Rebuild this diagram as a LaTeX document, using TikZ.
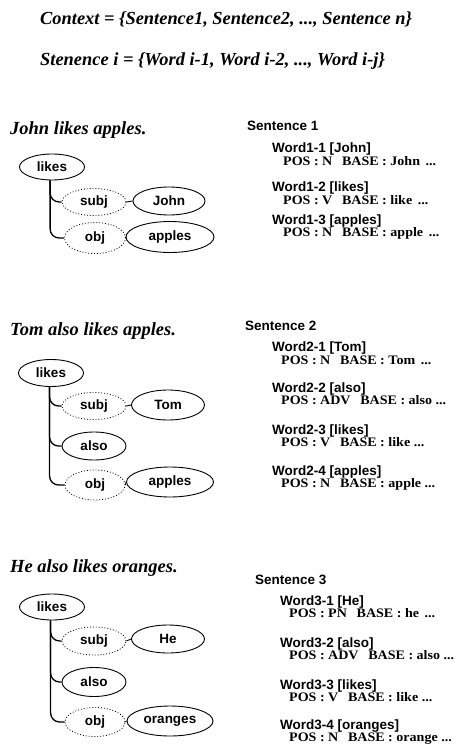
\documentclass[tikz,border=0pt]{standalone}
\usepackage{fontspec}
\setmainfont{Liberation Serif}
\setsansfont{Liberation Sans}
\usetikzlibrary{shapes.geometric}
\tikzset{
  title/.style={anchor=mid west, inner sep=0pt, font=\fontsize{18.4}{20}\selectfont\bfseries\itshape},
  sent/.style={anchor=mid west, inner sep=0pt, font=\fontsize{18.5}{20}\selectfont\bfseries\itshape},
  shead/.style={anchor=mid west, inner sep=0pt, font=\fontsize{13.5}{15}\selectfont\sffamily\bfseries},
  whead/.style={anchor=mid west, inner sep=0pt, font=\fontsize{13.5}{15}\selectfont\sffamily\bfseries},
  attr/.style={anchor=mid west, inner sep=0pt, font=\fontsize{13}{14}\selectfont\bfseries},
  tok/.style={ellipse, draw, line width=0.9pt, inner sep=0pt, font=\fontsize{13.5}{15}\selectfont\sffamily\bfseries},
  rel/.style={tok, dotted, line width=0.8pt},
  conn/.style={line width=1.3pt, rounded corners=9pt},
  link/.style={line width=0.9pt}
}
% attribute line: slightly widened text with a fixed gap between fields
\newcommand{\attrline}[2]{\scalebox{1.08}[1]{#1\hspace{9pt}#2}}
\begin{document}
\begin{tikzpicture}[x=1pt,y=-1pt]
\useasboundingbox (0,0) rectangle (469,751);

% definitions
\node[title] (ctx) at (40,22) {Context = \{Sentence1, Sentence2, ..., Sentence n\}};
\node[title] (sti) at (40,63) {Stenence i = \{Word i-1, Word i-2, ..., Word i-j\}};

% ---------- sentence 1 ----------
\node[sent] (t1) at (10,132) {John likes apples.};
\node[tok, minimum width=65pt, minimum height=26pt] (l1) at (52,167) {likes};
\node[rel, minimum width=64pt, minimum height=27pt] (s1) at (94,202) {subj};
\node[tok, minimum width=72pt, minimum height=28pt] (n1) at (169,201) {John};
\node[rel, minimum width=61pt, minimum height=31pt] (o1) at (95,238) {obj};
\node[tok, minimum width=88pt, minimum height=31pt] (a1) at (170,237) {apples};
\draw[conn] (l1.262) |- (s1.west);
\draw[conn] (l1.262) |- (o1.west);
\draw[link] (s1.east) -- (n1.west);
\draw[link] (o1.east) -- (a1.west);

\node[shead] (h1) at (247,128) {Sentence 1};
\node[whead] (w11) at (272,150) {Word1-1 [John]};
\node[attr] (p11) at (283,163) {\attrline{POS : N}{BASE : John\hspace{0.4em}...}};
\node[whead] (w12) at (272,189) {Word1-2 [likes]};
\node[attr] (p12) at (283,202) {\attrline{POS : V}{BASE : like\hspace{0.4em}...}};
\node[whead] (w13) at (272,222) {Word1-3 [apples]};
\node[attr] (p13) at (283,234) {\attrline{POS : N}{BASE : apple\hspace{0.4em}...}};

% ---------- sentence 2 ----------
\node[sent] (t2) at (10,333) {Tom also likes apples.};
\node[tok, minimum width=65pt, minimum height=27pt] (l2) at (51,373) {likes};
\node[rel, minimum width=64pt, minimum height=27pt] (s2) at (94,406) {subj};
\node[tok, minimum width=73pt, minimum height=30pt] (n2) at (168,405) {Tom};
\node[tok, minimum width=64pt, minimum height=28pt] (v2) at (94,446) {also};
\node[rel, minimum width=60pt, minimum height=30pt] (o2) at (95,485) {obj};
\node[tok, minimum width=87pt, minimum height=30pt] (a2) at (170,482) {apples};
\draw[conn] (l2.264) |- (s2.west);
\draw[conn] (l2.264) |- (v2.west);
\draw[conn] (l2.264) |- (o2.west);
\draw[link] (s2.east) -- (n2.west);
\draw[link] (o2.east) -- (a2.west);

\node[shead] (h2) at (245,328) {Sentence 2};
\node[whead] (w21) at (272,349) {Word2-1 [Tom]};
\node[attr] (p21) at (281,362) {\attrline{POS : N}{BASE : Tom\hspace{0.4em}...}};
\node[whead] (w22) at (272,390) {Word2-2 [also]};
\node[attr] (p22) at (281,402) {\attrline{POS : ADV}{BASE : also ...}};
\node[whead] (w23) at (272,432) {Word2-3 [likes]};
\node[attr] (p23) at (281,444) {\attrline{POS : V}{BASE : like ...}};
\node[whead] (w24) at (272,473) {Word2-4 [apples]};
\node[attr] (p24) at (281,485) {\attrline{POS : N}{BASE : apple ...}};

% ---------- sentence 3 ----------
\node[sent] (t3) at (10,570) {He also likes oranges.};
\node[tok, minimum width=65pt, minimum height=26pt] (l3) at (52,607) {likes};
\node[rel, minimum width=64pt, minimum height=28pt] (s3) at (94,641) {subj};
\node[tok, minimum width=73pt, minimum height=28pt] (n3) at (168,639) {He};
\node[tok, minimum width=64pt, minimum height=29pt] (v3) at (94,682) {also};
\node[rel, minimum width=60pt, minimum height=29pt] (o3) at (95,722) {obj};
\node[tok, minimum width=86pt, minimum height=30pt] (a3) at (170,721) {oranges};
\draw[conn] (l3.264) |- (s3.west);
\draw[conn] (l3.264) |- (v3.west);
\draw[conn] (l3.264) |- (o3.west);
\draw[link] (s3.east) -- (n3.west);
\draw[link] (o3.east) -- (a3.west);

\node[shead] (h3) at (255,582) {Sentence 3};
\node[whead] (w31) at (280,603) {Word3-1 [He]};
\node[attr] (p31) at (289,615) {\attrline{POS : PN}{BASE : he\hspace{0.4em}...}};
\node[whead] (w32) at (280,645) {Word3-2 [also]};
\node[attr] (p32) at (289,657) {\attrline{POS : ADV}{BASE : also ...}};
\node[whead] (w33) at (280,687) {Word3-3 [likes]};
\node[attr] (p33) at (289,699) {\attrline{POS : V}{BASE : like ...}};
\node[whead] (w34) at (280,727) {Word3-4 [oranges]};
\node[attr] (p34) at (289,739) {\attrline{POS : N}{BASE : orange ...}};
\end{tikzpicture}
\end{document}
